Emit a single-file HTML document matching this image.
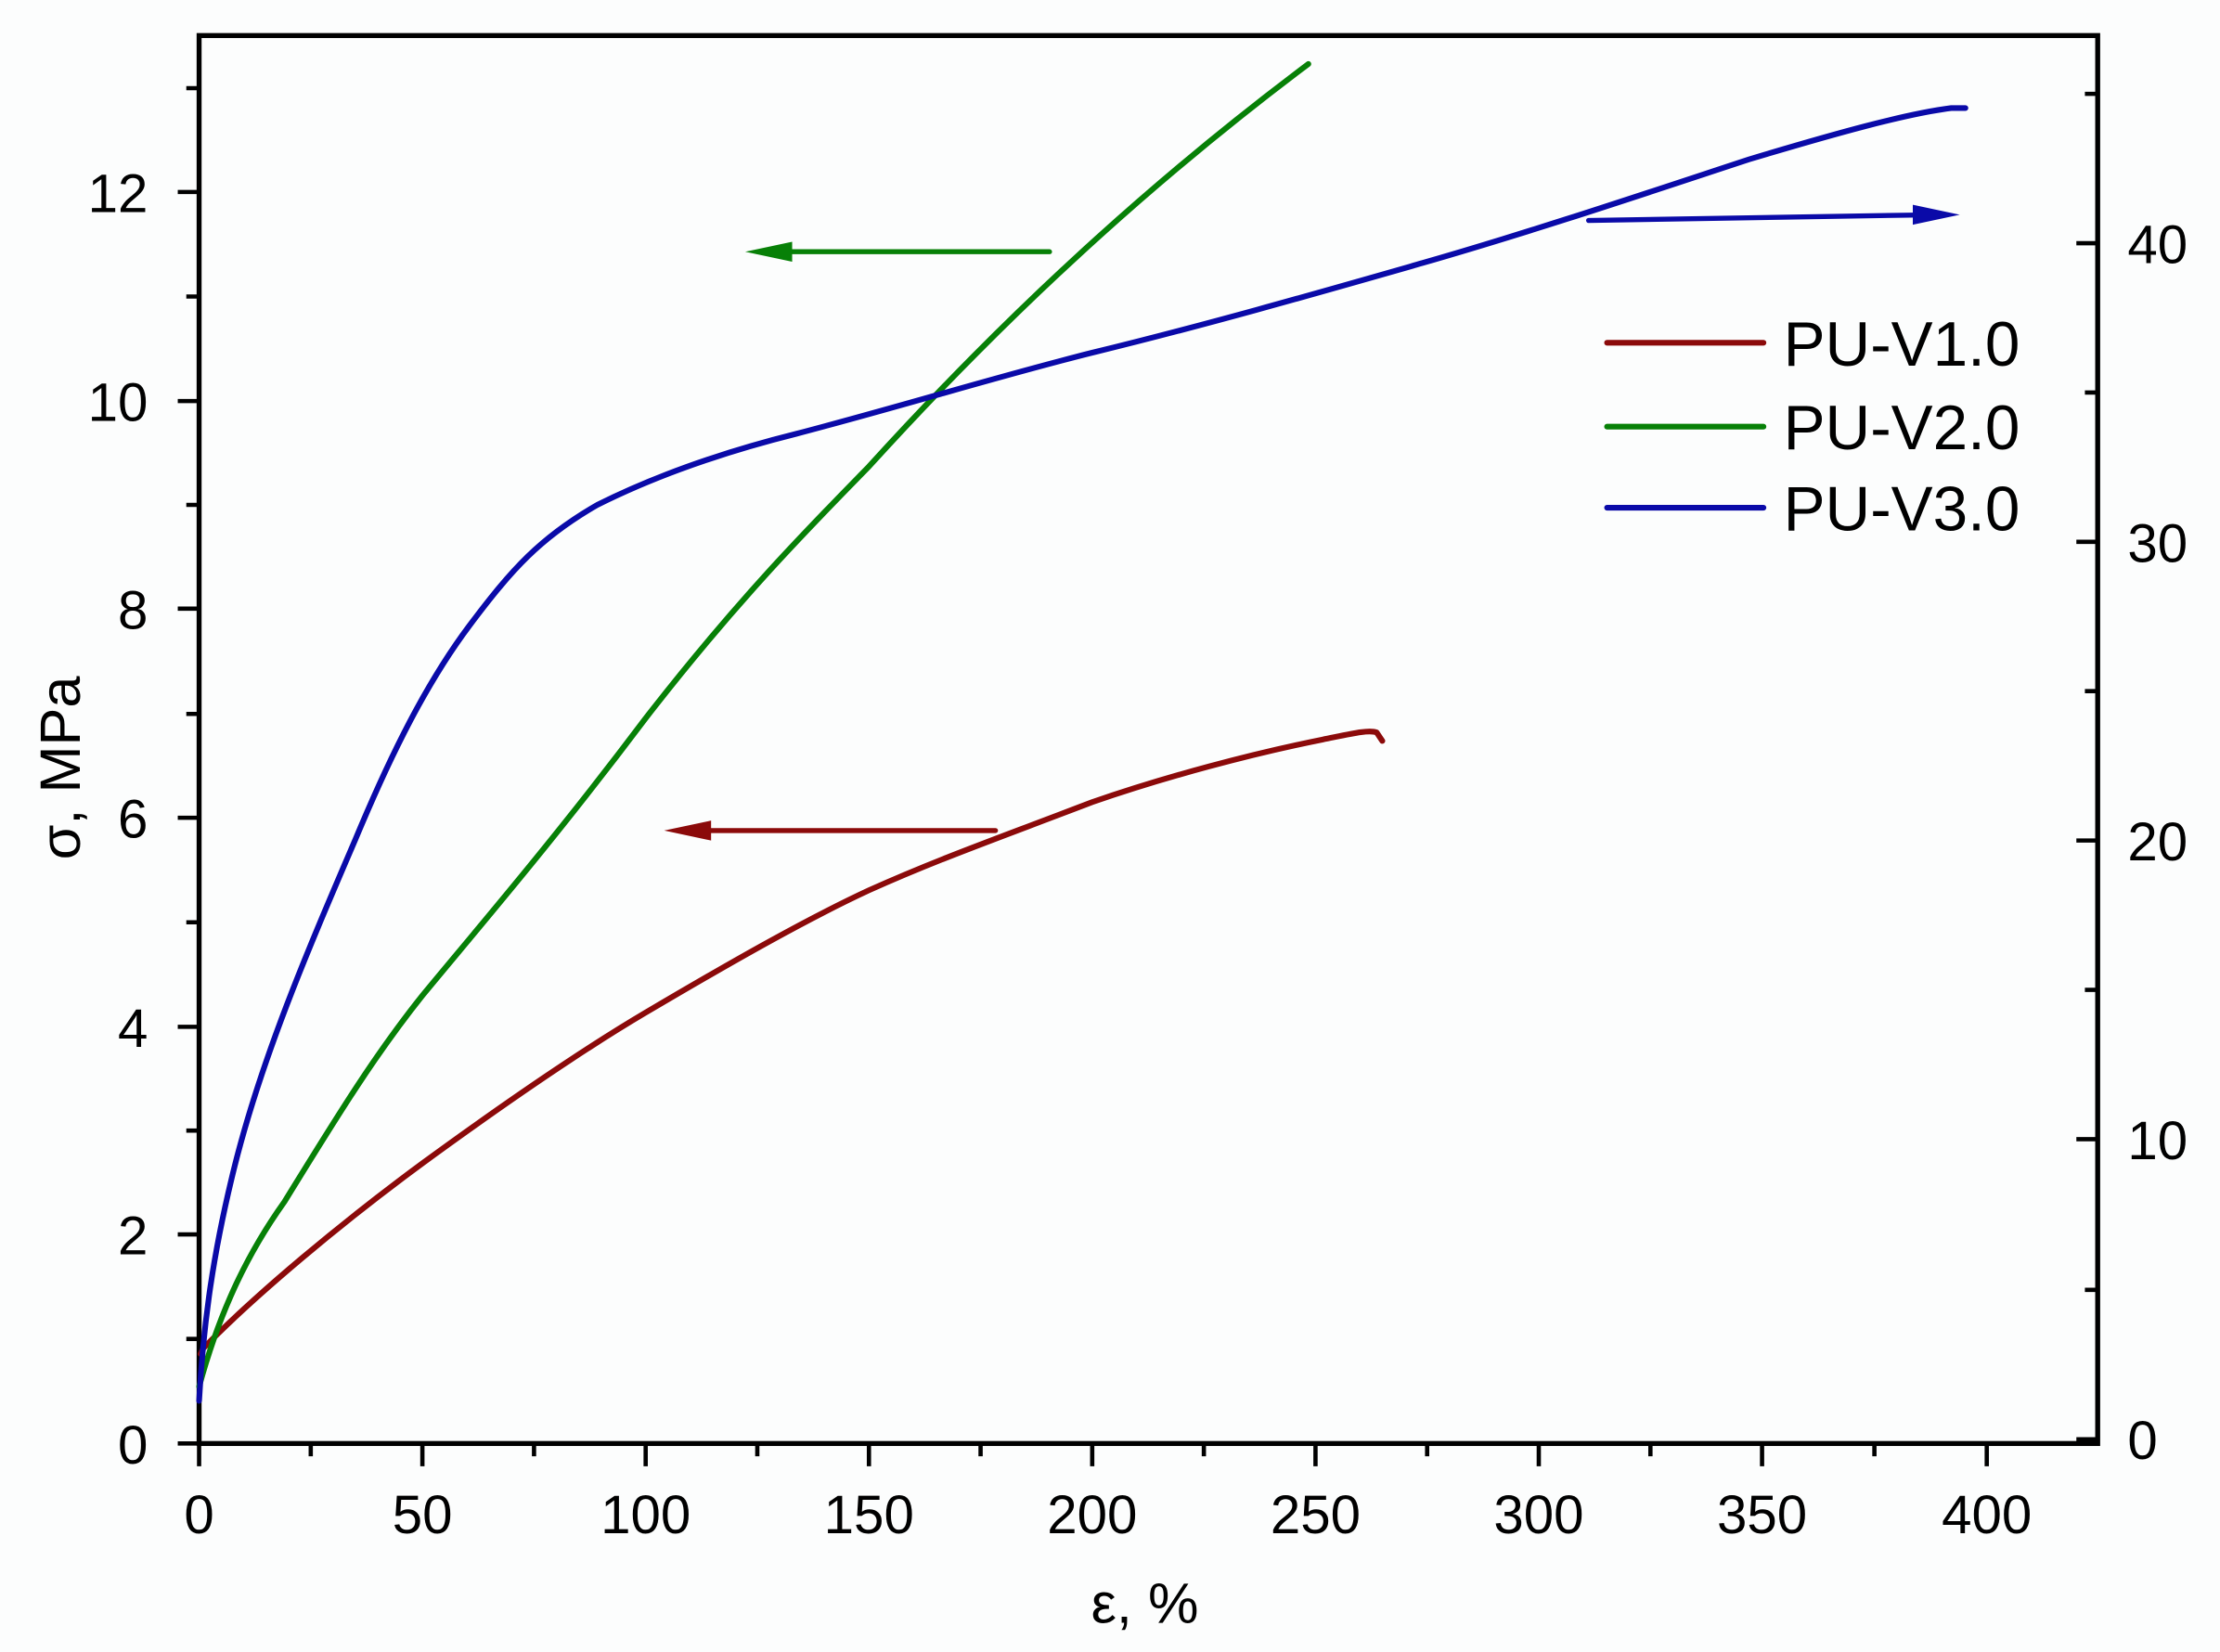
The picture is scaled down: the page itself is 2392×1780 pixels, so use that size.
<!DOCTYPE html>
<html><head><meta charset="utf-8"><style>html,body{margin:0;padding:0;background:#fcfdfd}svg{display:block}</style></head>
<body>
<svg width="2392" height="1780" viewBox="0 0 1561 1161.6" preserveAspectRatio="none" xmlns="http://www.w3.org/2000/svg" font-family="Liberation Sans, Arial, sans-serif">
<rect x="0" y="0" width="1561" height="1162" fill="#fcfdfd"/>
<rect x="140" y="25" width="1335" height="990" fill="none" stroke="#000" stroke-width="3.5"/>
<g stroke="#000" stroke-width="3">
<path d="M140 1015v16M297 1015v16M454 1015v16M611 1015v16M768 1015v16M925 1015v16M1082 1015v16M1239 1015v16M1397 1015v16"/>
<path d="M218.5 1015v9M375.5 1015v9M532.5 1015v9M689.5 1015v9M846.5 1015v9M1003.5 1015v9M1160.5 1015v9M1318 1015v9"/>
<path d="M140 1015h-15M140 868h-15M140 722h-15M140 575h-15M140 428h-15M140 282h-15M140 135h-15"/>
<path d="M140 941.5h-9M140 795h-9M140 648.5h-9M140 502h-9M140 355h-9M140 208.5h-9M140 62h-9"/>
<path d="M1475 1012h-15M1475 801h-15M1475 591h-15M1475 381h-15M1475 171h-15"/>
<path d="M1475 907h-9M1475 696h-9M1475 486h-9M1475 276h-9M1475 66h-9"/>
</g>
<g font-size="38" fill="#000">
<g text-anchor="middle">
<text x="140" y="1078">0</text><text x="297" y="1078">50</text><text x="454" y="1078">100</text><text x="611" y="1078">150</text><text x="768" y="1078">200</text><text x="925" y="1078">250</text><text x="1082" y="1078">300</text><text x="1239" y="1078">350</text><text x="1397" y="1078">400</text>
</g>
<g text-anchor="end">
<text x="104" y="1029">0</text><text x="104" y="882">2</text><text x="104" y="736">4</text><text x="104" y="589">6</text><text x="104" y="442">8</text><text x="104" y="296">10</text><text x="104" y="149">12</text>
</g>
<g text-anchor="start">
<text x="1496" y="1026">0</text><text x="1496" y="815">10</text><text x="1496" y="605">20</text><text x="1496" y="395">30</text><text x="1496" y="185">40</text>
</g>
<text x="805" y="1141" text-anchor="middle" font-size="40">ε, %</text>
<text transform="translate(56,540) rotate(-90)" text-anchor="middle" font-size="40">σ, MPa</text>
</g>
<g fill="none" stroke-width="4" stroke-linecap="round" stroke-linejoin="round">
<path stroke="#8b0a0a" d="M141 952 L143 948 C180 910 240 860 297 818 C360 772 410 738 454 712 C520 673 570 645 611 626 C660 604 700 590 768 564 C820 546 880 530 930 520 C950 516 962 513 968 515 L972 521"/>
<path stroke="#078007" d="M140 975 C155 920 175 880 200 845 C240 780 265 740 297 700 C340 648 390 590 454 505 C520 420 570 370 611 328 C700 230 800 135 920 45"/>
<path stroke="#0a0aa8" d="M140 985 C143 930 150 880 165 820 C185 740 220 660 250 590 C275 530 300 480 330 440 C360 400 380 378 420 355 C470 330 520 315 560 305 C640 284 700 265 768 248 C850 228 930 205 1000 185 C1080 162 1160 135 1230 112 C1290 94 1340 80 1372 76 L1382 76"/>
<path stroke="#8b0a0a" stroke-width="3.5" d="M700 584 H480"/>
<path stroke="#078007" stroke-width="3.5" d="M738 177 H540"/>
<path stroke="#0a0aa8" stroke-width="3.5" d="M1117 155 L1360 151"/>
<path stroke="#8b0a0a" d="M1130 241 H1240"/>
<path stroke="#078007" d="M1130 300 H1240"/>
<path stroke="#0a0aa8" d="M1130 357 H1240"/>
</g>
<polygon points="467,584 500,577 500,591" fill="#8b0a0a"/>
<polygon points="524,177 557,170 557,184" fill="#078007"/>
<polygon points="1378,151 1345,144 1345,158" fill="#0a0aa8"/>
<g font-size="44" fill="#000">
<text x="1254" y="257">PU-V1.0</text>
<text x="1254" y="316">PU-V2.0</text>
<text x="1254" y="373">PU-V3.0</text>
</g>
</svg>
</body></html>
